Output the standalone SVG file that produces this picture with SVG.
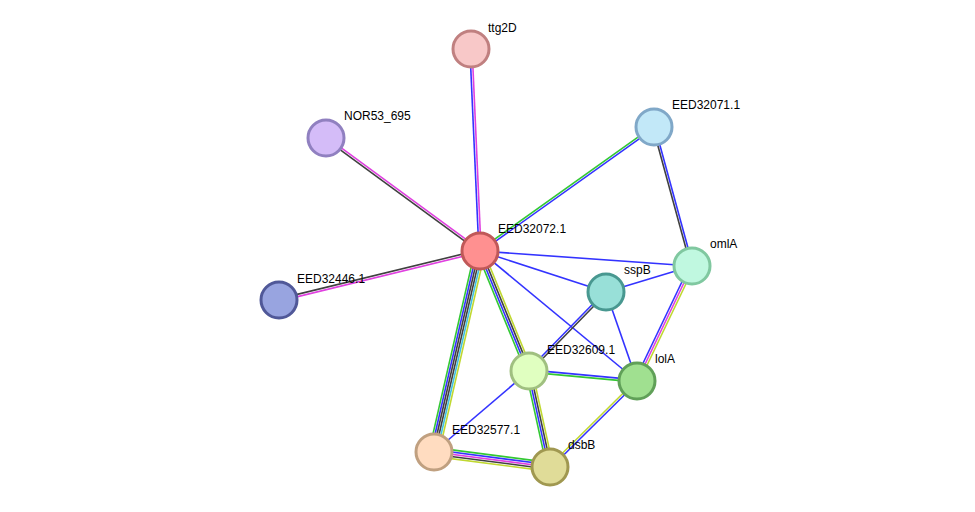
<svg xmlns="http://www.w3.org/2000/svg" width="975" height="512" viewBox="0 0 975 512">
<style>
line{stroke-width:1.6}
.b{stroke:#3333ff}.m{stroke:#e040e0}.k{stroke:#404040}.g{stroke:#33c833}.y{stroke:#c0d830}.c{stroke:#40c0e0}
.n{stroke-width:3}
text{font-family:"Liberation Sans",Arial,sans-serif;font-size:12px;fill:#000}
</style>
<rect width="975" height="512" fill="#fff"/>
<g id="edges">
<line class="b" x1="478.9" y1="251" x2="469.9" y2="49"/><line class="m" x1="481.1" y1="251" x2="472.1" y2="49"/>
<line class="m" x1="480.65" y1="250.1" x2="326.65" y2="137.1"/><line class="k" x1="479.35" y1="251.9" x2="325.35" y2="138.9"/>
<line class="g" x1="479.4" y1="250.1" x2="653.4" y2="126.1"/><line class="b" x1="480.6" y1="251.9" x2="654.6" y2="127.9"/>
<line class="k" x1="479.7" y1="249.9" x2="278.7" y2="298.9"/><line class="m" x1="480.3" y1="252.1" x2="279.3" y2="301.1"/>
<line class="b" x1="480" y1="251" x2="692" y2="266"/>
<line class="b" x1="480" y1="251" x2="606" y2="292"/>
<line class="b" x1="480" y1="251" x2="637" y2="381"/>
<line class="g" x1="477" y1="252.2" x2="526" y2="372.2"/><line class="b" x1="479" y1="251.4" x2="528" y2="371.4"/><line class="k" x1="481" y1="250.6" x2="530" y2="370.6"/><line class="y" x1="483" y1="249.8" x2="532" y2="369.8"/>
<line class="g" x1="475.1" y1="249.9" x2="429.1" y2="450.9"/><line class="b" x1="477.1" y1="250.3" x2="431.1" y2="451.3"/><line class="k" x1="479.0" y1="250.8" x2="433.0" y2="451.8"/><line class="k" x1="481.0" y1="251.2" x2="435.0" y2="452.2"/><line class="c" x1="482.9" y1="251.7" x2="436.9" y2="452.7"/><line class="y" x1="484.9" y1="252.1" x2="438.9" y2="453.1"/>
<line class="g" x1="526" y1="372.2" x2="547" y2="468.2"/><line class="b" x1="528" y1="371.4" x2="549" y2="467.4"/><line class="k" x1="530" y1="370.6" x2="551" y2="466.6"/><line class="y" x1="532" y1="369.8" x2="553" y2="465.8"/>
<line class="k" x1="653" y1="127.8" x2="691" y2="266.8"/><line class="b" x1="655" y1="127.2" x2="693" y2="266.2"/>
<line class="b" x1="692" y1="266" x2="606" y2="292"/>
<line class="b" x1="690" y1="265" x2="635" y2="380"/><line class="m" x1="692" y1="266" x2="637" y2="381"/><line class="y" x1="694" y1="267" x2="639" y2="382"/>
<line class="b" x1="605.2" y1="291.2" x2="528.2" y2="370.2"/><line class="k" x1="606.8" y1="292.8" x2="529.8" y2="371.8"/>
<line class="b" x1="606" y1="292" x2="637" y2="381"/>
<line class="b" x1="529.1" y1="369.9" x2="637.1" y2="379.9"/><line class="g" x1="528.9" y1="372.1" x2="636.9" y2="382.1"/>
<line class="b" x1="529" y1="371" x2="434" y2="452"/>
<line class="y" x1="636.2" y1="380.2" x2="549.2" y2="466.2"/><line class="b" x1="637.8" y1="381.8" x2="550.8" y2="467.8"/>
<line class="g" x1="434.6" y1="447.6" x2="550.6" y2="462.6"/><line class="b" x1="434.3" y1="449.8" x2="550.3" y2="464.8"/><line class="m" x1="434" y1="452" x2="550" y2="467"/><line class="k" x1="433.7" y1="454.2" x2="549.7" y2="469.2"/><line class="y" x1="433.4" y1="456.4" x2="549.4" y2="471.4"/>
</g>
<g id="ttg2D"><circle class="n" cx="471" cy="49" r="18" fill="#f8c8c8" stroke="#c08080"/><text x="488" y="32">ttg2D</text></g>
<g id="NOR53_695"><circle class="n" cx="326" cy="138" r="18" fill="#d4bcf8" stroke="#9080c0"/><text x="344" y="120">NOR53_695</text></g>
<g id="EED32071.1"><circle class="n" cx="654" cy="127" r="18" fill="#c2e8f8" stroke="#80a8c8"/><text x="672" y="109">EED32071.1</text></g>
<g id="EED32072.1"><circle class="n" cx="480" cy="251" r="18" fill="#ff9090" stroke="#c05858"/><text x="498" y="233">EED32072.1</text></g>
<g id="omlA"><circle class="n" cx="692" cy="266" r="18" fill="#c0f8e0" stroke="#80c8a0"/><text x="710" y="248">omlA</text></g>
<g id="sspB"><circle class="n" cx="606" cy="292" r="18" fill="#98e0d8" stroke="#489890"/><text x="624" y="274">sspB</text></g>
<g id="EED32446.1"><circle class="n" cx="279" cy="300" r="18" fill="#98a4e0" stroke="#505898"/><text x="297" y="283">EED32446.1</text></g>
<g id="EED32609.1"><circle class="n" cx="529" cy="371" r="18" fill="#e0ffc0" stroke="#a0c080"/><text x="547" y="354">EED32609.1</text></g>
<g id="lolA"><circle class="n" cx="637" cy="381" r="18" fill="#a0e090" stroke="#60a058"/><text x="655" y="363">lolA</text></g>
<g id="EED32577.1"><circle class="n" cx="434" cy="452" r="18" fill="#ffdcc0" stroke="#c0a080"/><text x="452" y="434">EED32577.1</text></g>
<g id="dsbB"><circle class="n" cx="550" cy="467" r="18" fill="#e0dc98" stroke="#a09850"/><text x="568" y="449">dsbB</text></g>
</svg>
